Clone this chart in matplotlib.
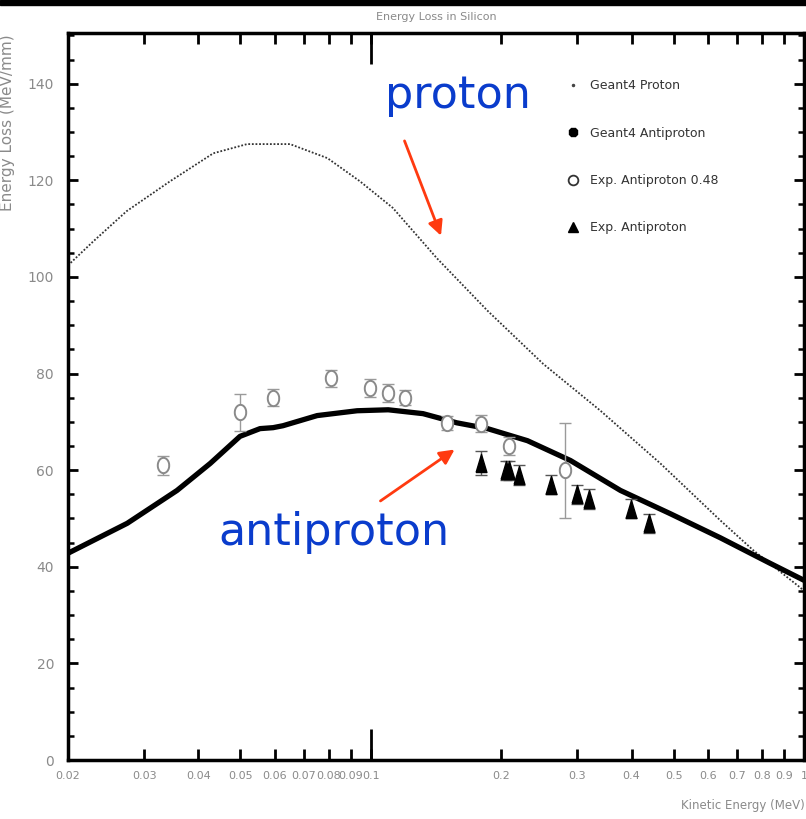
import numpy as np
import matplotlib
matplotlib.use('Agg')
import matplotlib.pyplot as plt
from matplotlib.lines import Line2D
from matplotlib.patches import Rectangle
from matplotlib import font_manager

# --- data ---
proton_E = [0.020, 0.0229, 0.0273, 0.0344, 0.0433, 0.0518, 0.0651, 0.0794,
            0.0944, 0.1124, 0.142, 0.186, 0.250, 0.339, 0.466, 0.641, 0.764, 0.98, 1.0]
proton_dEdx = [102.4, 107.4, 113.6, 119.8, 125.6, 127.5, 127.5, 124.6,
               119.8, 114.3, 103.9, 93.0, 82.0, 72.3, 61.4, 49.6, 43.4, 35.7, 35.0]

anti_E = [0.020, 0.0274, 0.0357, 0.0426, 0.0499, 0.0555, 0.0595, 0.0627, 0.0752,
          0.093, 0.1097, 0.132, 0.158, 0.186, 0.230, 0.289, 0.377, 0.491, 0.641, 0.836, 1.0]
anti_dEdx = [42.8, 49.0, 55.8, 61.4, 67.0, 68.6, 68.8, 69.2, 71.3,
             72.3, 72.5, 71.7, 69.8, 68.6, 66.1, 62.0, 55.8, 51.0, 46.0, 40.7, 37.2]

exp48_E = [0.0332, 0.0499, 0.0595, 0.081, 0.0997, 0.1097, 0.120, 0.150, 0.180, 0.209, 0.280]
exp48_val = [61.0, 72.0, 75.0, 79.0, 77.0, 76.0, 75.0, 69.8, 69.6, 65.0, 60.0]
exp48_err = [2.0, 3.8, 1.8, 1.8, 1.8, 1.8, 1.5, 1.5, 1.8, 1.8, 9.8]

exp_E = [0.180, 0.205, 0.209, 0.220, 0.261, 0.300, 0.319, 0.399, 0.439]
exp_val = [61.5, 60.0, 60.0, 59.0, 57.0, 55.0, 54.0, 52.0, 49.0]
exp_err = [2.5, 2.0, 2.0, 2.0, 2.0, 2.0, 2.0, 2.0, 2.0]

x_ticks = [0.02, 0.03, 0.04, 0.05, 0.06, 0.07, 0.08, 0.09, 0.1,
           0.2, 0.3, 0.4, 0.5, 0.6, 0.7, 0.8, 0.9, 1.0]
x_tick_labels = ['0.02', '0.03', '0.04', '0.05', '0.06', '0.07', '0.08', '0.09', '0.1',
                 '0.2', '0.3', '0.4', '0.5', '0.6', '0.7', '0.8', '0.9', '1']
y_ticks = [0, 20, 40, 60, 80, 100, 120, 140]

grey = '#8a8a8a'

# the original axis numbers are set in a condensed face
installed = {f.name for f in font_manager.fontManager.ttflist}
if 'Liberation Sans Narrow' in installed:
    xfont, xsize = 'Liberation Sans Narrow', 10
else:
    xfont, xsize = 'DejaVu Sans', 8

fig = plt.figure(figsize=(8.06, 8.19), dpi=100)
ax = fig.add_axes([68/806, 59/819, 736/806, 727/819])

# marker shapes (slightly tall like the scanned plot)
t = np.linspace(0, 2*np.pi, 40)
ellipse = list(zip(0.75*np.cos(t), np.sin(t)))
tri = [(-0.6, -1), (0.6, -1), (0, 1), (-0.6, -1)]

ax.plot(proton_E, proton_dEdx, linestyle=(0, (1, 1)), color='#333333', lw=1.3)
ax.plot(anti_E, anti_dEdx, color='black', lw=3.8, solid_capstyle='round')

ax.errorbar(exp48_E, exp48_val, yerr=exp48_err, fmt='none', ecolor='#9a9a9a',
            elinewidth=1, capsize=4)
ax.plot(exp48_E, exp48_val, linestyle='none', marker=ellipse, markersize=11,
        markerfacecolor='white', markeredgecolor='#8a8a8a', markeredgewidth=1.4)

ax.errorbar(exp_E, exp_val, yerr=exp_err, fmt='none', ecolor='#555555',
            elinewidth=1, capsize=4)
ax.plot(exp_E, exp_val, linestyle='none', marker=tri, markersize=13,
        color='black')

ax.set_xscale('log')
ax.set_xlim(0.02, 1.0)
ax.set_ylim(0, 150.5)

ax.xaxis.set_major_locator(matplotlib.ticker.FixedLocator(x_ticks))
ax.xaxis.set_major_formatter(matplotlib.ticker.FixedFormatter(x_tick_labels))
ax.xaxis.set_minor_locator(matplotlib.ticker.FixedLocator([0.1]))
ax.xaxis.set_minor_formatter(matplotlib.ticker.NullFormatter())
ax.xaxis.remove_overlapping_locs = False
ax.set_yticks(y_ticks)
ax.yaxis.set_minor_locator(matplotlib.ticker.MultipleLocator(5))

ax.tick_params(axis='both', which='both', direction='in', top=True, right=True,
               color='black', width=2)
ax.tick_params(axis='x', which='major', length=8, labelsize=xsize, labelcolor=grey, pad=8,
               labelfontfamily=xfont)
ax.tick_params(axis='x', which='minor', length=22)
ax.tick_params(axis='y', which='major', length=7, labelsize=10, labelcolor=grey, pad=10)
ax.tick_params(axis='y', which='minor', length=4, width=1.8)
for s in ax.spines.values():
    s.set_linewidth(2.5)

# legend
handles = [
    Line2D([], [], linestyle='none', marker='.', markersize=3, color='#444444'),
    Line2D([], [], linestyle='none', marker='8', markersize=7, color='black'),
    Line2D([], [], linestyle='none', marker='o', markersize=7, markerfacecolor='white',
           markeredgecolor='#333333', markeredgewidth=1.3),
    Line2D([], [], linestyle='none', marker='^', markersize=7, color='black'),
]
labels = ['Geant4 Proton', 'Geant4 Antiproton', 'Exp. Antiproton 0.48', 'Exp. Antiproton']
ax.legend(handles, labels, loc='upper left', bbox_to_anchor=(555/806, 1 - 68/819),
          bbox_transform=fig.transFigure, frameon=False, fontsize=9,
          labelspacing=2.75, handlelength=1.0, handletextpad=0.9, labelcolor='#333333')

# blue labels with red arrows
ax.text(0.159, 137.5, 'proton', color='#0a3ccc', fontsize=32, ha='center', va='center')
ax.annotate('', xy=(0.146, 108.0), xytext=(0.119, 128.7),
            arrowprops=dict(arrowstyle='-|>', color='#ff3a10', lw=2, mutation_scale=22))
ax.text(0.0822, 47.0, 'antiproton', color='#0a3ccc', fontsize=32, ha='center', va='center')
ax.annotate('', xy=(0.158, 64.6), xytext=(0.104, 53.3),
            arrowprops=dict(arrowstyle='-|>', color='#ff3a10', lw=2, mutation_scale=22))

# title and axis labels in the small grey style of the original
fig.text(436/806, 1 - 17/819, 'Energy Loss in Silicon', ha='center', va='center',
         fontsize=8, color=grey)
fig.text(8/806, 1 - 34/819, 'Energy Loss (MeV/mm)', rotation=90, ha='center', va='top',
         fontsize=11, color=grey)
fig.text(805/806, 1 - 806/819, 'Kinetic Energy (MeV)', ha='right', va='center',
         fontsize=8.5, color=grey)

# black bar across the top
fig.add_artist(Rectangle((0, 1 - 5/819), 1, 5/819, transform=fig.transFigure,
                         color='black', zorder=10))

plt.savefig('out.png', dpi=100)
plt.close()
